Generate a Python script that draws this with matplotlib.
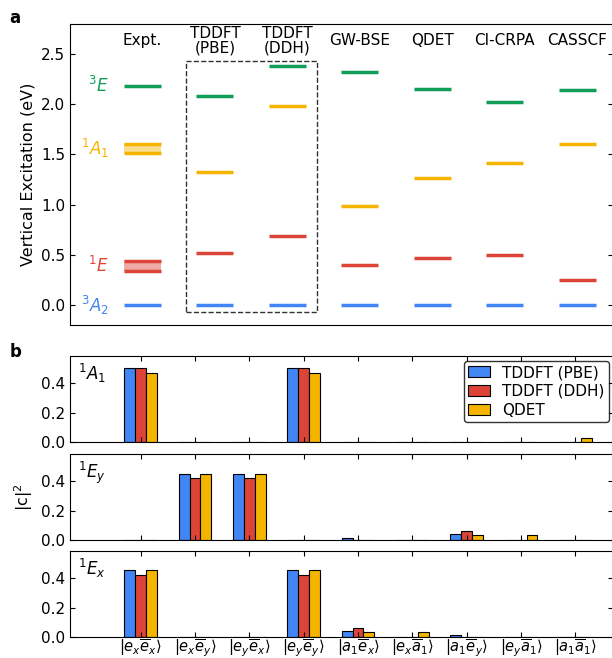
import matplotlib.pyplot as plt
from matplotlib.patches import Rectangle
import numpy as np

# ---- panel a data ----
methods = ['Expt.', 'TDDFT\n(PBE)', 'TDDFT\n(DDH)', 'GW-BSE', 'QDET', 'CI-CRPA', 'CASSCF']
states = ['$^3A_2$', '$^1E$', '$^1A_1$', '$^3E$']
e_3A2 = [0.0, 0.0, 0.0, 0.0, 0.0, 0.0, 0.0]
e_1E = [0.39, 0.515, 0.685, 0.40, 0.465, 0.495, 0.245]
e_1A1 = [1.555, 1.33, 1.98, 0.99, 1.27, 1.41, 1.60]
e_3E = [2.18, 2.08, 2.38, 2.32, 2.15, 2.02, 2.14]
expt_1E_range = [0.34, 0.44]
expt_1A1_range = [1.51, 1.60]

# ---- panel b data ----
configs = [r'$|e_x\overline{e}_x\rangle$', r'$|e_x\overline{e}_y\rangle$',
           r'$|e_y\overline{e}_x\rangle$', r'$|e_y\overline{e}_y\rangle$',
           r'$|a_1\overline{e}_x\rangle$', r'$|e_x\overline{a}_1\rangle$',
           r'$|a_1\overline{e}_y\rangle$', r'$|e_y\overline{a}_1\rangle$',
           r'$|a_1\overline{a}_1\rangle$']
series = ['TDDFT (PBE)', 'TDDFT (DDH)', 'QDET']
c2_1A1 = {'TDDFT (PBE)': [0.50, 0, 0, 0.50, 0, 0, 0, 0, 0],
          'TDDFT (DDH)': [0.50, 0, 0, 0.50, 0, 0, 0, 0, 0],
          'QDET':        [0.47, 0, 0, 0.47, 0, 0, 0, 0, 0.025]}
c2_1Ey = {'TDDFT (PBE)': [0.003, 0.452, 0.452, 0.003, 0.012, 0.002, 0.044, 0.002, 0.002],
          'TDDFT (DDH)': [0.003, 0.422, 0.422, 0.003, 0.002, 0.002, 0.062, 0.002, 0.002],
          'QDET':        [0.003, 0.452, 0.452, 0.003, 0.002, 0.002, 0.035, 0.035, 0.002]}
c2_1Ex = {'TDDFT (PBE)': [0.454, 0.001, 0.001, 0.454, 0.039, 0.001, 0.012, 0.001, 0.001],
          'TDDFT (DDH)': [0.420, 0.001, 0.001, 0.420, 0.059, 0.001, 0.002, 0.002, 0.001],
          'QDET':        [0.454, 0.001, 0.001, 0.454, 0.032, 0.032, 0.002, 0.001, 0.001]}

blue, red, yellow, green = '#4285F4', '#DB4437', '#F4B400', '#0F9D58'
state_colors = [blue, red, yellow, green]
bar_colors = [blue, red, yellow]

plt.rcParams['font.size'] = 11

fig = plt.figure(figsize=(6.12, 6.58), dpi=100)

# ---------------- panel a ----------------
ax = fig.add_axes([0.1144, 0.506, 0.888, 0.4575])
x = np.arange(len(methods))
hw = 0.255
levels = [e_3A2, e_1E, e_1A1, e_3E]
for i in range(len(methods)):
    for vals, col in zip(levels, state_colors):
        if i == 0 and col == red:
            lo, hi = expt_1E_range
        elif i == 0 and col == yellow:
            lo, hi = expt_1A1_range
        else:
            ax.plot([x[i] - hw, x[i] + hw], [vals[i]] * 2, color=col, lw=2.5,
                    solid_capstyle='butt')
            continue
        ax.fill_between([x[i] - hw, x[i] + hw], lo, hi, color=col, alpha=0.45, lw=0)
        for yy in (lo, hi):
            ax.plot([x[i] - hw, x[i] + hw], [yy, yy], color=col, lw=2.5,
                    solid_capstyle='butt')

# state labels next to experiment
for s, vals, col in zip(states, levels, state_colors):
    ax.text(-0.47, vals[0], s, color=col, ha='right', va='center', fontsize=12)

for i, m in enumerate(methods):
    ax.text(x[i], 2.635, m, ha='center', va='center', fontsize=11, linespacing=1.0)

ax.add_patch(Rectangle((0.6, -0.07), 1.81, 2.5, fill=False, ls='--', lw=1.0,
                       ec='#333333'))

ax.set_xlim(-1.0, 6.5)
ax.set_ylim(-0.2, 2.8)
ax.set_yticks([0.0, 0.5, 1.0, 1.5, 2.0, 2.5])
ax.set_ylabel('Vertical Excitation (eV)', fontsize=11.5)
ax.tick_params(axis='y', direction='in', left=True, right=True, labelsize=11)
ax.tick_params(axis='x', bottom=False, labelbottom=False)

fig.text(0.015, 0.972, 'a', fontsize=12, fontweight='bold', va='center')
fig.text(0.015, 0.465, 'b', fontsize=12, fontweight='bold', va='center')

# ---------------- panel b ----------------
bottoms = [0.3283, 0.1793, 0.0319]
datas = [c2_1A1, c2_1Ey, c2_1Ex]
names = ['$^1A_1$', '$^1E_y$', '$^1E_x$']
xb = np.arange(len(configs))
w = 0.2
for k, (b, d, nm) in enumerate(zip(bottoms, datas, names)):
    axb = fig.add_axes([0.1144, b, 0.888, 0.1307])
    for j, s in enumerate(series):
        axb.bar(xb + (j - 1) * w, d[s], w, color=bar_colors[j], edgecolor='black',
                lw=0.8, label=s)
    axb.set_xlim(-1.3, 8.7)
    axb.set_ylim(0, 0.585)
    axb.set_yticks([0.0, 0.2, 0.4])
    axb.set_xticks(xb)
    axb.tick_params(direction='in', top=True, right=True, labelsize=11)
    axb.text(0.015, 0.93, nm, transform=axb.transAxes, ha='left', va='top',
             fontsize=12)
    if k == 2:
        axb.set_xticklabels(configs, fontsize=10.5)
        axb.tick_params(axis='x', pad=0.5)
    else:
        axb.tick_params(labelbottom=False)
    if k == 1:
        axb.set_ylabel('|c|$^2$', fontsize=11.5)
    if k == 0:
        axb.legend(loc='upper right', fontsize=11, edgecolor='black',
                   handlelength=1.4, borderaxespad=0.3, labelspacing=0.25,
                   borderpad=0.3)

fig.savefig('out.png', dpi=100)
